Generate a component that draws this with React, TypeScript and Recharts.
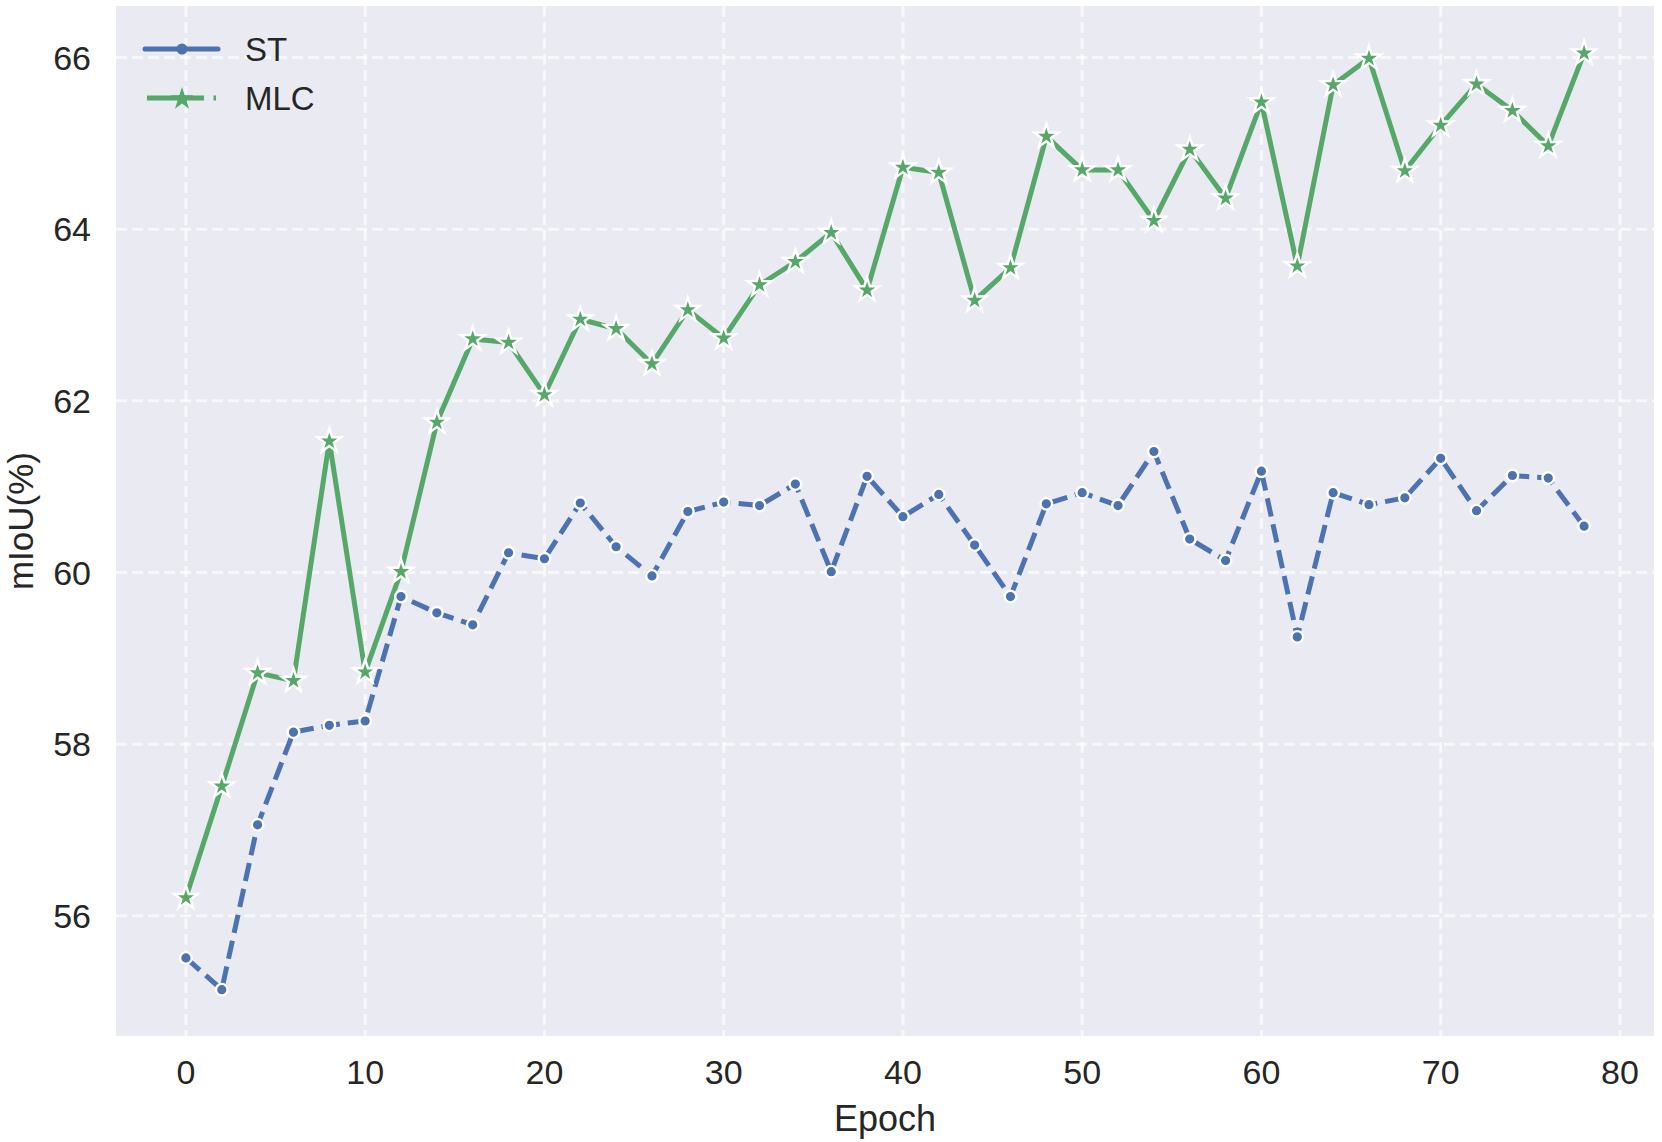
import React from "react";
import {
	LineChart,
	Line,
	XAxis,
	YAxis,
	CartesianGrid,
} from "recharts";

const EPOCHS = [
	0, 2, 4, 6, 8, 10, 12, 14, 16, 18, 20, 22, 24, 26, 28, 30, 32, 34, 36, 38,
	40, 42, 44, 46, 48, 50, 52, 54, 56, 58, 60, 62, 64, 66, 68, 70, 72, 74, 76, 78,
];

const ST = [
	55.51, 55.14, 57.06, 58.14, 58.22, 58.27, 59.72, 59.53, 59.39, 60.23,
	60.16, 60.81, 60.3, 59.96, 60.71, 60.82, 60.78, 61.03, 60.01, 61.12,
	60.65, 60.91, 60.32, 59.72, 60.8, 60.93, 60.78, 61.41, 60.39, 60.14,
	61.18, 59.25, 60.93, 60.79, 60.87, 61.33, 60.72, 61.13, 61.1, 60.54,
];

const MLC = [
	56.21, 57.51, 58.83, 58.74, 61.53, 58.84, 60.01, 61.75, 62.72, 62.68,
	62.07, 62.95, 62.84, 62.43, 63.06, 62.73, 63.35, 63.62, 63.96, 63.29,
	64.72, 64.66, 63.17, 63.55, 65.08, 64.69, 64.69, 64.1, 64.93, 64.36,
	65.48, 63.57, 65.68, 65.99, 64.68, 65.21, 65.69, 65.38, 64.97, 66.05,
];

const X_TICKS = [0, 10, 20, 30, 40, 50, 60, 70, 80];
const Y_TICKS = [56, 58, 60, 62, 64, 66];

const BLUE = "#4C72B0";
const GREEN = "#55A868";
const FONT = "'Liberation Sans', Arial, sans-serif";
const TEXT = "#262626";

const data = EPOCHS.map((epoch, i) => ({ epoch, st: ST[i], mlc: MLC[i] }));

const starPoints = (cx: number, cy: number, R: number) => {
	const r = R * 0.382;
	const pts: string[] = [];
	for (let k = 0; k < 10; k++) {
		const rad = k % 2 === 0 ? R : r;
		const a = -Math.PI / 2 + (k * Math.PI) / 5;
		pts.push(`${cx + rad * Math.cos(a)},${cy + rad * Math.sin(a)}`);
	}
	return pts.join(" ");
};

const CircleDot = (props: any) => {
	const { cx, cy, index } = props;
	return (
		<circle
			key={`st-${index}`}
			cx={cx}
			cy={cy}
			r={5.8}
			fill={BLUE}
			stroke="#fff"
			strokeWidth={2.4}
		/>
	);
};

const StarDot = (props: any) => {
	const { cx, cy, index } = props;
	return (
		<polygon
			key={`mlc-${index}`}
			points={starPoints(cx, cy, 12.5)}
			fill={GREEN}
			stroke="#fff"
			strokeWidth={2.4}
			strokeLinejoin="miter"
		/>
	);
};

const Legend = () => (
	<svg
		width={400}
		height={140}
		style={{ position: "absolute", left: 0, top: 0, pointerEvents: "none" }}
	>
		{/* ST */}
		<line x1={145} y1={49} x2={218} y2={49} stroke={BLUE} strokeWidth={5} strokeLinecap="round" />
		<circle cx={182} cy={49} r={5.5} fill={BLUE} />
		<text x={245} y={61} fontSize={33} fontFamily={FONT} fill={TEXT}>
			ST
		</text>
		{/* MLC */}
		<line x1={147} y1={98} x2={204} y2={98} stroke={GREEN} strokeWidth={5} />
		<line x1={213.5} y1={98} x2={216} y2={98} stroke={GREEN} strokeWidth={5} />
		<polygon points={starPoints(182, 99, 12)} fill={GREEN} />
		<text x={245} y={110} fontSize={33} fontFamily={FONT} fill={TEXT}>
			MLC
		</text>
	</svg>
);

export default function App() {
	return (
		<div
			style={{
				position: "absolute",
				left: 0,
				top: 0,
				width: 1662,
				height: 1142,
				background: "#fff",
			}}
		>
			<LineChart
				width={1662}
				height={1142}
				data={data}
				margin={{ top: 6, right: 8, bottom: 0, left: 0 }}
			>
				<CartesianGrid
					fill="#EAEAF2"
					stroke="#ffffff"
					strokeOpacity={0.65}
					strokeWidth={3}
					strokeDasharray="11 5"
					syncWithTicks
				/>
				<XAxis
					dataKey="epoch"
					type="number"
					domain={[-3.9, 81.9]}
					ticks={X_TICKS}
					interval={0}
					allowDataOverflow
					axisLine={false}
					tickLine={false}
					tickSize={0}
					tickMargin={24}
					height={106}
					tick={{ fontSize: 34, fontFamily: FONT, fill: TEXT }}
					label={{
						content: (p: any) => {
							const vb = p.viewBox;
							return (
								<text
									x={vb.x + vb.width / 2}
									y={1131}
									textAnchor="middle"
									fontSize={36}
									fontFamily={FONT}
									fill={TEXT}
								>
									Epoch
								</text>
							);
						},
					}}
				/>
				<YAxis
					type="number"
					domain={[54.6, 66.6]}
					ticks={Y_TICKS}
					interval={0}
					allowDataOverflow
					axisLine={false}
					tickLine={false}
					tickSize={0}
					tickMargin={25}
					width={116}
					tick={{ fontSize: 34, fontFamily: FONT, fill: TEXT }}
					label={{
						content: (p: any) => {
							const vb = p.viewBox;
							const cy = vb.y + vb.height / 2;
							return (
								<text
									x={33}
									y={cy}
									transform={`rotate(-90, 33, ${cy})`}
									textAnchor="middle"
									fontSize={35}
									fontFamily={FONT}
									fill={TEXT}
								>
									mIoU(%)
								</text>
							);
						},
					}}
				/>
				<Line
					dataKey="st"
					name="ST"
					type="linear"
					stroke={BLUE}
					strokeWidth={5}
					strokeDasharray="18.5 8"
					dot={CircleDot}
					activeDot={false}
					isAnimationActive={false}
				/>
				<Line
					dataKey="mlc"
					name="MLC"
					type="linear"
					stroke={GREEN}
					strokeWidth={5}
					dot={StarDot}
					activeDot={false}
					isAnimationActive={false}
				/>
			</LineChart>
			<Legend />
		</div>
	);
}
